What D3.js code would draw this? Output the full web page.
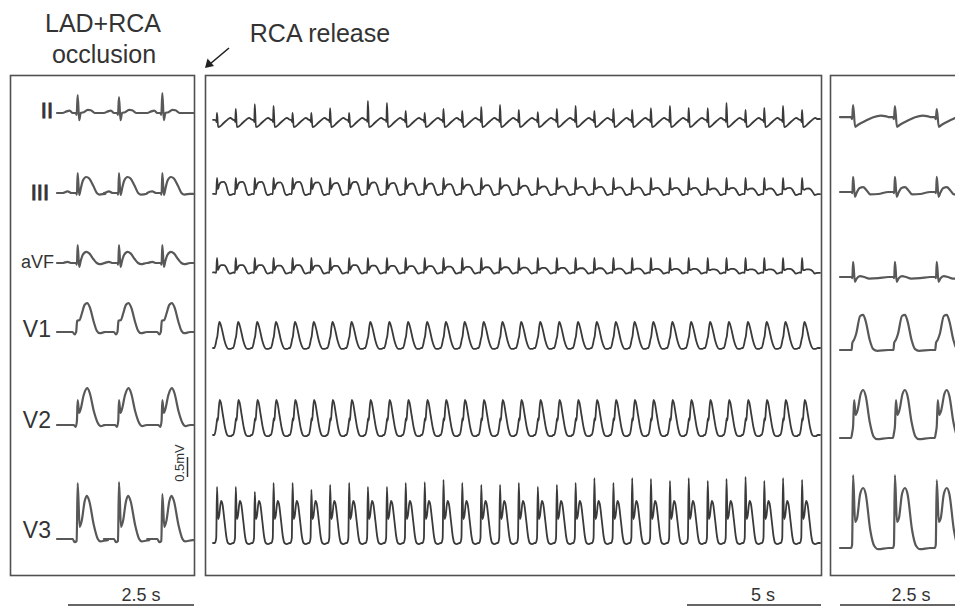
<!DOCTYPE html>
<html><head><meta charset="utf-8">
<script src="https://cdn.jsdelivr.net/npm/d3@7"></script>
<style>
body{margin:0;background:#fff}
svg{display:block}
text{font-family:"Liberation Sans",Arial,Helvetica,sans-serif;fill:#333}
</style>
</head><body>
<svg id="c" width="955" height="606"></svg>
<script>
// ---------------- DATA ----------------
const leads = ["II", "III", "aVF", "V1", "V2", "V3"];
const titleLeft = ["LAD+RCA", "occlusion"];
const titleMid = "RCA release";
const scaleLabels = ["2.5 s", "5 s", "2.5 s"];
const scaleSeconds = [2.5, 5, 2.5];
const ampLabel = "0.5mV";
const ampBar = 0.5; // mV

// R-wave times (s) in each panel
const beatsLeft = [0.41, 1.23, 2.09];
const beatsMid = [0.15, 0.85, 1.56, 2.26, 2.97, 3.67, 4.37, 5.08, 5.78, 6.49, 7.19, 7.90, 8.60, 9.30, 10.01, 10.71,
  11.41, 12.12, 12.83, 13.53, 14.23, 14.94, 15.64, 16.34, 17.05, 17.75, 18.46, 19.16, 19.87, 20.57, 21.27, 21.98];
const beatsRight = [0.26, 1.09, 1.92];

// per-beat R amplitudes (mV)
const rLeftII = [0.45, 0.40, 0.50];
const rLeftV3 = [1.40, 1.42, 1.12];
const rRightII = [0.32, 0.30, 0.22];
const rRightV3 = [1.82, 1.82, 1.70];
const rMidII = [0.20, 0.30, 0.42, 0.38, 0.20, 0.20, 0.32, 0.20, 0.50, 0.45, 0.25, 0.20, 0.30, 0.25, 0.35, 0.40,
  0.28, 0.22, 0.30, 0.38, 0.25, 0.30, 0.28, 0.32, 0.38, 0.33, 0.32, 0.45, 0.28, 0.33, 0.38, 0.28];
const rMidV3 = [1.40, 1.40, 1.28, 1.50, 1.50, 1.33, 1.45, 1.50, 1.40, 1.40, 1.50, 1.52, 1.58, 1.50, 1.45, 1.45,
  1.50, 1.40, 1.45, 1.50, 1.62, 1.50, 1.62, 1.60, 1.55, 1.62, 1.55, 1.60, 1.65, 1.55, 1.62, 1.58];
// per-beat ST hump scale for III / aVF in middle panel
const stMid = [1.0, 1.0, 1.0, 0.95, 1.0, 0.95, 0.9, 1.0, 0.95, 0.9, 0.85, 0.85, 0.8, 0.75, 0.7, 0.7,
  0.65, 0.6, 0.6, 0.55, 0.55, 0.5, 0.5, 0.45, 0.45, 0.45, 0.4, 0.45, 0.4, 0.4, 0.45, 0.4];

// beat templates: [seconds from R, mV, tag]
const leftII = [[-0.30,0],[-0.22,0.04],[-0.16,0.06],[-0.10,0],[-0.04,0],[-0.02,-0.05],[0,0.45,"R"],[0.03,-0.18],[0.06,0],[0.12,0.02],[0.20,0.08],[0.26,0.07],[0.34,0],[0.42,0]];
const leftIII = [[-0.30,0],[-0.20,0.04],[-0.12,0],[-0.03,0],[-0.015,-0.04],[0,0.50],[0.03,-0.05],[0.06,0.10],[0.10,0.30],[0.17,0.40],[0.23,0.36],[0.31,0.18],[0.38,0],[0.44,-0.04],[0.55,-0.02]];
const leftaVF = [[-0.30,0],[-0.20,0.03],[-0.12,0],[-0.03,0],[-0.015,-0.04],[0,0.45],[0.03,-0.10],[0.06,0.05],[0.10,0.20],[0.17,0.28],[0.23,0.24],[0.31,0.10],[0.38,0],[0.44,-0.03],[0.55,0]];
const leftV1 = [[-0.30,0],[-0.10,0],[-0.06,-0.06],[-0.03,0],[-0.01,0.28],[0.04,0.30],[0.08,0.45],[0.14,0.68],[0.19,0.72],[0.24,0.62],[0.32,0.25],[0.38,0.03],[0.44,-0.03],[0.55,0]];
const leftV2 = [[-0.30,0],[-0.08,0],[-0.04,-0.05],[-0.015,0.10],[0,0.62],[0.03,0.30],[0.06,0.40],[0.12,0.75],[0.19,0.92],[0.24,0.80],[0.32,0.35],[0.40,0.05],[0.46,-0.03],[0.55,0]];
const leftV3 = [[-0.30,0],[-0.10,0],[-0.06,-0.08],[-0.02,-0.05],[0,1.38,"R"],[0.04,0.30],[0.08,0.45],[0.14,0.95],[0.18,1.08],[0.23,0.95],[0.32,0.35],[0.40,0],[0.45,-0.06],[0.60,-0.03]];

const midII = [[-0.10,0.03],[-0.04,0.02],[-0.02,-0.03],[0,0.30,"R"],[0.04,-0.15],[0.10,-0.14],[0.25,-0.05],[0.40,0.04],[0.50,0.08],[0.56,0.05]];
const midIII = [[-0.10,-0.02],[-0.03,-0.03],[0,0.38],[0.035,0.10],[0.08,0.20,"T"],[0.16,0.27,"T"],[0.26,0.28,"T"],[0.34,0.20,"T"],[0.42,0],[0.47,-0.05],[0.58,-0.03]];
const midaVF = [[-0.10,-0.01],[-0.03,-0.02],[0,0.35],[0.035,0.05],[0.08,0.12,"T"],[0.16,0.17,"T"],[0.26,0.17,"T"],[0.34,0.12,"T"],[0.42,0],[0.47,-0.04],[0.58,-0.02]];
const midV1 = [[-0.10,0],[-0.05,0.10],[-0.01,0.24],[0.01,0.28],[0.05,0.52],[0.09,0.65],[0.13,0.60],[0.20,0.42],[0.28,0.18],[0.35,0.04],[0.42,-0.02],[0.52,-0.02],[0.58,0]];
const midV2 = [[-0.10,0],[-0.05,0.12],[-0.01,0.32],[0.01,0.42],[0.03,0.36],[0.06,0.62],[0.10,0.88],[0.14,0.82],[0.22,0.50],[0.30,0.18],[0.36,0.03],[0.43,-0.03],[0.52,-0.03],[0.58,0]];
const midV3 = [[-0.08,0],[-0.03,0.12],[0,1.45,"R"],[0.04,0.60],[0.08,0.68],[0.15,1.05],[0.20,0.98],[0.28,0.55],[0.35,0.15],[0.41,0],[0.50,-0.03],[0.60,0]];

const rightII = [[-0.10,0.02],[-0.04,0.02],[-0.02,-0.03],[0,0.32,"R"],[0.04,-0.22],[0.10,-0.17],[0.25,-0.07],[0.40,0.02],[0.55,0.06],[0.66,0.04],[0.72,0.02]];
const rightIII = [[-0.10,0],[-0.03,0],[-0.015,-0.03],[0,0.38],[0.035,-0.12],[0.07,-0.02],[0.13,0.10],[0.20,0.12],[0.27,0.04],[0.34,-0.06],[0.50,-0.05],[0.70,0]];
const rightaVF = [[-0.10,0],[-0.03,0],[-0.015,-0.03],[0,0.38],[0.035,-0.12],[0.07,-0.04],[0.14,0.02],[0.22,0],[0.32,-0.04],[0.50,-0.03],[0.70,0]];
const rightV1 = [[-0.10,0],[-0.03,0],[-0.015,0.18],[0.02,0.26],[0.06,0.40],[0.14,0.85],[0.20,0.88],[0.25,0.72],[0.33,0.25],[0.40,0.02],[0.48,-0.02],[0.70,0]];
const rightV2 = [[-0.10,0],[-0.04,0],[-0.02,0.12],[0,0.30],[0.02,0.95],[0.05,0.58],[0.09,0.70],[0.15,1.10],[0.20,1.20],[0.25,1.05],[0.33,0.40],[0.41,0.03],[0.48,-0.03],[0.70,0]];
const rightV3 = [[-0.10,0],[-0.04,0],[-0.02,0.08],[0,1.82,"R"],[0.04,0.65],[0.08,0.75],[0.14,1.35],[0.20,1.50],[0.25,1.35],[0.34,0.45],[0.42,0.05],[0.50,-0.03],[0.70,0]];

// ---------------- LAYOUT ----------------
const svg = d3.select("#c");
const pxPerMv = 40;

const panels = [
  {box:[10,194], x0:57, pps:50.4, tEnd:2.72, beats:beatsLeft,
   base:[113,193,263,332,425,539],
   tpl:[leftII,leftIII,leftaVF,leftV1,leftV2,leftV3],
   amps:[rLeftII,null,null,null,null,rLeftV3], st:[null,null,null,null,null,null],
   stroke:"#585858", width:2.2, bar:{x1:194, y:605, label:scaleLabels[0], sec:scaleSeconds[0], cx:141}},
  {box:[205,821], x0:213, pps:26.8, tEnd:22.65, beats:beatsMid,
   base:[121,193,272,348,435,543],
   tpl:[midII,midIII,midaVF,midV1,midV2,midV3],
   amps:[rMidII,null,null,null,null,rMidV3], st:[null,stMid,stMid,null,null,null],
   stroke:"#3a3a3a", width:1.8, bar:{x1:821, y:605, label:scaleLabels[1], sec:scaleSeconds[1], cx:763}},
  {box:[830,975], x0:840, pps:50.4, tEnd:2.7, beats:beatsRight,
   base:[118,192,277,350,438,548],
   tpl:[rightII,rightIII,rightaVF,rightV1,rightV2,rightV3],
   amps:[rRightII,null,null,null,null,rRightV3], st:[null,null,null,null,null,null],
   stroke:"#585858", width:2.2, bar:{x1:null, y:605, label:scaleLabels[2], sec:scaleSeconds[2], cx:911}}
];

function buildTrace(times, tpl, amps, st, tEnd){
  const pts = [[0, tpl[0][1]]];
  times.forEach((tb,k)=>{
    tpl.forEach(p=>{
      let v = p[1];
      if(p[2]==="R" && amps) v = amps[k];
      if(p[2]==="T" && st) v = p[1]*st[k];
      pts.push([tb+p[0], v]);
    });
  });
  pts.push([tEnd, tpl[tpl.length-1][1]]);
  return pts;
}

const boxTop = 75.5, boxBottom = 575.5;

panels.forEach((P)=>{
  const x = d3.scaleLinear().domain([0,P.tEnd]).range([P.x0, P.x0 + P.tEnd*P.pps]);
  svg.append("rect").attr("x",P.box[0]+0.5).attr("y",boxTop)
    .attr("width",P.box[1]-P.box[0]).attr("height",boxBottom-boxTop)
    .attr("fill","none").attr("stroke","#505050").attr("stroke-width",1.6);
  leads.forEach((ld,li)=>{
    const y = d3.scaleLinear().domain([0,1]).range([P.base[li], P.base[li]-pxPerMv]);
    const pts = buildTrace(P.beats, P.tpl[li], P.amps[li], P.st[li], P.tEnd);
    const line = d3.line().x(d=>x(d[0])).y(d=>y(d[1])).curve(d3.curveMonotoneX);
    svg.append("path").datum(pts).attr("d",line)
      .attr("fill","none").attr("stroke",P.stroke).attr("stroke-width",P.width)
      .attr("stroke-linejoin","round").attr("stroke-linecap","round");
  });
  const len = x(P.bar.sec) - x(0);
  const x1 = P.bar.x1 !== null ? P.bar.x1 : 840 + len;
  const x0b = P.bar.x1 !== null ? P.bar.x1 - len : 840;
  svg.append("line").attr("x1",x0b).attr("x2",x1).attr("y1",P.bar.y).attr("y2",P.bar.y)
    .attr("stroke","#333").attr("stroke-width",1.6);
  svg.append("text").attr("x",P.bar.cx).attr("y",601).attr("text-anchor","middle")
    .attr("font-size",18).text(P.bar.label);
});

// lead labels (left panel)
const labelPos = [
  {x:53, y:118, fs:22, sw:0.9}, {x:49, y:200, fs:22, sw:0.9}, {x:54, y:268, fs:18, sw:0},
  {x:51, y:337, fs:23, sw:0}, {x:51, y:428, fs:23, sw:0}, {x:51, y:538, fs:23, sw:0}
];
leads.forEach((ld,i)=>{
  svg.append("text").attr("x",labelPos[i].x).attr("y",labelPos[i].y)
    .attr("text-anchor","end").attr("font-size",labelPos[i].fs)
    .attr("stroke","#333").attr("stroke-width",labelPos[i].sw).text(ld);
});

// amplitude bar (0.5 mV)
const yAmp = d3.scaleLinear().domain([0,1]).range([477, 477-pxPerMv]);
svg.append("line").attr("x1",187.5).attr("x2",187.5).attr("y1",yAmp(0)).attr("y2",yAmp(ampBar))
  .attr("stroke","#333").attr("stroke-width",1.5);
svg.append("text").attr("transform","translate(184,463) rotate(-90)")
  .attr("text-anchor","middle").attr("font-size",13).text(ampLabel);

// titles
svg.append("text").attr("x",103).attr("y",32).attr("text-anchor","middle").attr("font-size",25).text(titleLeft[0]);
svg.append("text").attr("x",104).attr("y",63).attr("text-anchor","middle").attr("font-size",25).text(titleLeft[1]);
svg.append("text").attr("x",320).attr("y",42).attr("text-anchor","middle").attr("font-size",25).text(titleMid);

// arrow
svg.append("line").attr("x1",229).attr("y1",48).attr("x2",210).attr("y2",64)
  .attr("stroke","#222").attr("stroke-width",1.6);
svg.append("path").attr("d","M205,68 L207.5,58.5 L214,66 Z").attr("fill","#222");
</script>
</body></html>
